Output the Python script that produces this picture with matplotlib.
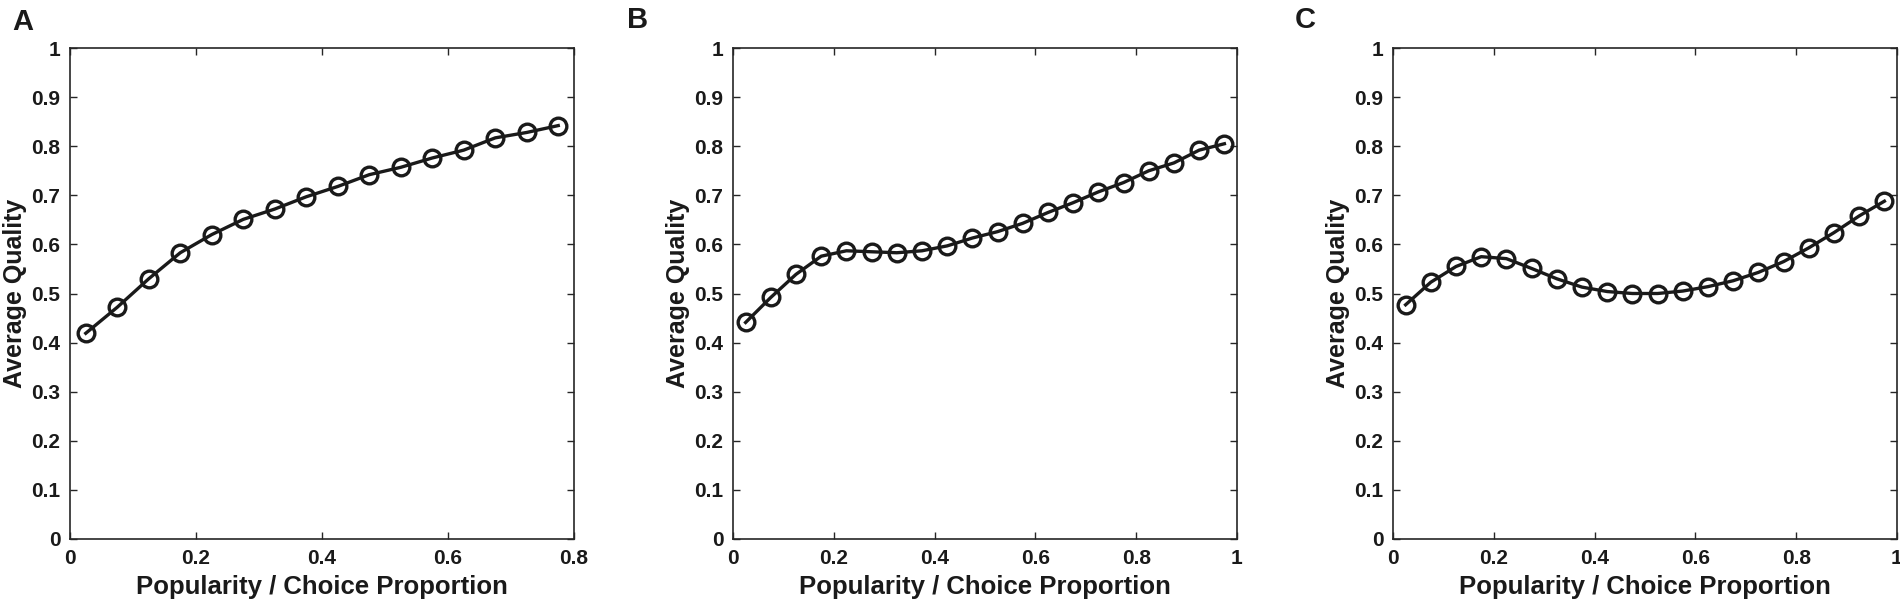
import matplotlib
matplotlib.use("Agg")
import matplotlib.pyplot as plt
import numpy as np

# ---- data ----
x_a = [0.025, 0.075, 0.125, 0.175, 0.225, 0.275, 0.325, 0.375,
       0.425, 0.475, 0.525, 0.575, 0.625, 0.675, 0.725, 0.775]
y_a = [0.419, 0.472, 0.530, 0.583, 0.620, 0.651, 0.672, 0.697,
       0.718, 0.742, 0.757, 0.776, 0.792, 0.817, 0.828, 0.842]

x_bc = [0.025, 0.075, 0.125, 0.175, 0.225, 0.275, 0.325, 0.375, 0.425, 0.475,
        0.525, 0.575, 0.625, 0.675, 0.725, 0.775, 0.825, 0.875, 0.925, 0.975]
y_b = [0.441, 0.492, 0.539, 0.576, 0.587, 0.585, 0.583, 0.587, 0.597, 0.613,
       0.626, 0.643, 0.665, 0.685, 0.707, 0.726, 0.750, 0.766, 0.792, 0.805]
y_c = [0.477, 0.523, 0.555, 0.575, 0.571, 0.551, 0.530, 0.513, 0.504, 0.500,
       0.500, 0.505, 0.514, 0.526, 0.543, 0.565, 0.593, 0.624, 0.658, 0.688]

panel_labels = ["A", "B", "C"]
xlims = [(0, 0.8), (0, 1), (0, 1)]
xticks_a = [0, 0.2, 0.4, 0.6, 0.8]
xticklabels_a = ["0", "0.2", "0.4", "0.6", "0.8"]
xticks_bc = [0, 0.2, 0.4, 0.6, 0.8, 1]
xticklabels_bc = ["0", "0.2", "0.4", "0.6", "0.8", "1"]
yticks = [0, 0.1, 0.2, 0.3, 0.4, 0.5, 0.6, 0.7, 0.8, 0.9, 1]
yticklabels = ["0", "0.1", "0.2", "0.3", "0.4", "0.5", "0.6", "0.7", "0.8", "0.9", "1"]
xlabel = "Popularity / Choice Proportion"
ylabel = "Average Quality"

plt.rcParams['font.family'] = ['Liberation Sans', 'DejaVu Sans']
plt.rcParams['font.weight'] = 'bold'

W, H = 1900, 608
fig = plt.figure(figsize=(W / 100, H / 100), dpi=100)

lefts = [70, 733, 1393]
ax_w = 504
ax_bottom = 69
ax_h = 491
label_pos = [(23, 22), (638, 20), (1305, 20)]

series = [(x_a, y_a), (x_bc, y_b), (x_bc, y_c)]
xt = [(xticks_a, xticklabels_a), (xticks_bc, xticklabels_bc), (xticks_bc, xticklabels_bc)]
axcol = '#262626'
ink = '#1a1a1a'

for i in range(3):
    ax = fig.add_axes([lefts[i] / W, ax_bottom / H, ax_w / W, ax_h / H])
    xs, ys = series[i]
    ax.plot(xs, ys, '-o', color=ink, lw=2.4, markersize=12,
            markerfacecolor='none', markeredgewidth=2.4, markeredgecolor=ink)
    ax.set_xlim(*xlims[i])
    ax.set_ylim(0, 1)
    ax.set_xticks(xt[i][0])
    ax.set_xticklabels(xt[i][1])
    ax.set_yticks(yticks)
    ax.set_yticklabels(yticklabels)
    ax.tick_params(direction='in', length=5, width=1, top=True, right=True,
                   labelsize=15, colors=axcol, pad=7)
    for lab in ax.get_xticklabels() + ax.get_yticklabels():
        lab.set_fontweight('bold')
        lab.set_color(ink)
    for sp in ax.spines.values():
        sp.set_color(axcol)
        sp.set_linewidth(1.2)
    ax.set_xlabel(xlabel, fontsize=18.5, fontweight='bold', color=ink, labelpad=5)
    ax.set_ylabel(ylabel, fontsize=18, fontweight='bold', color=ink, labelpad=3)
    fig.text(label_pos[i][0] / W, 1 - label_pos[i][1] / H, panel_labels[i],
             fontsize=21, fontweight='bold', ha='center', va='center', color=ink)

fig.savefig("out.png", dpi=100, facecolor='white')
